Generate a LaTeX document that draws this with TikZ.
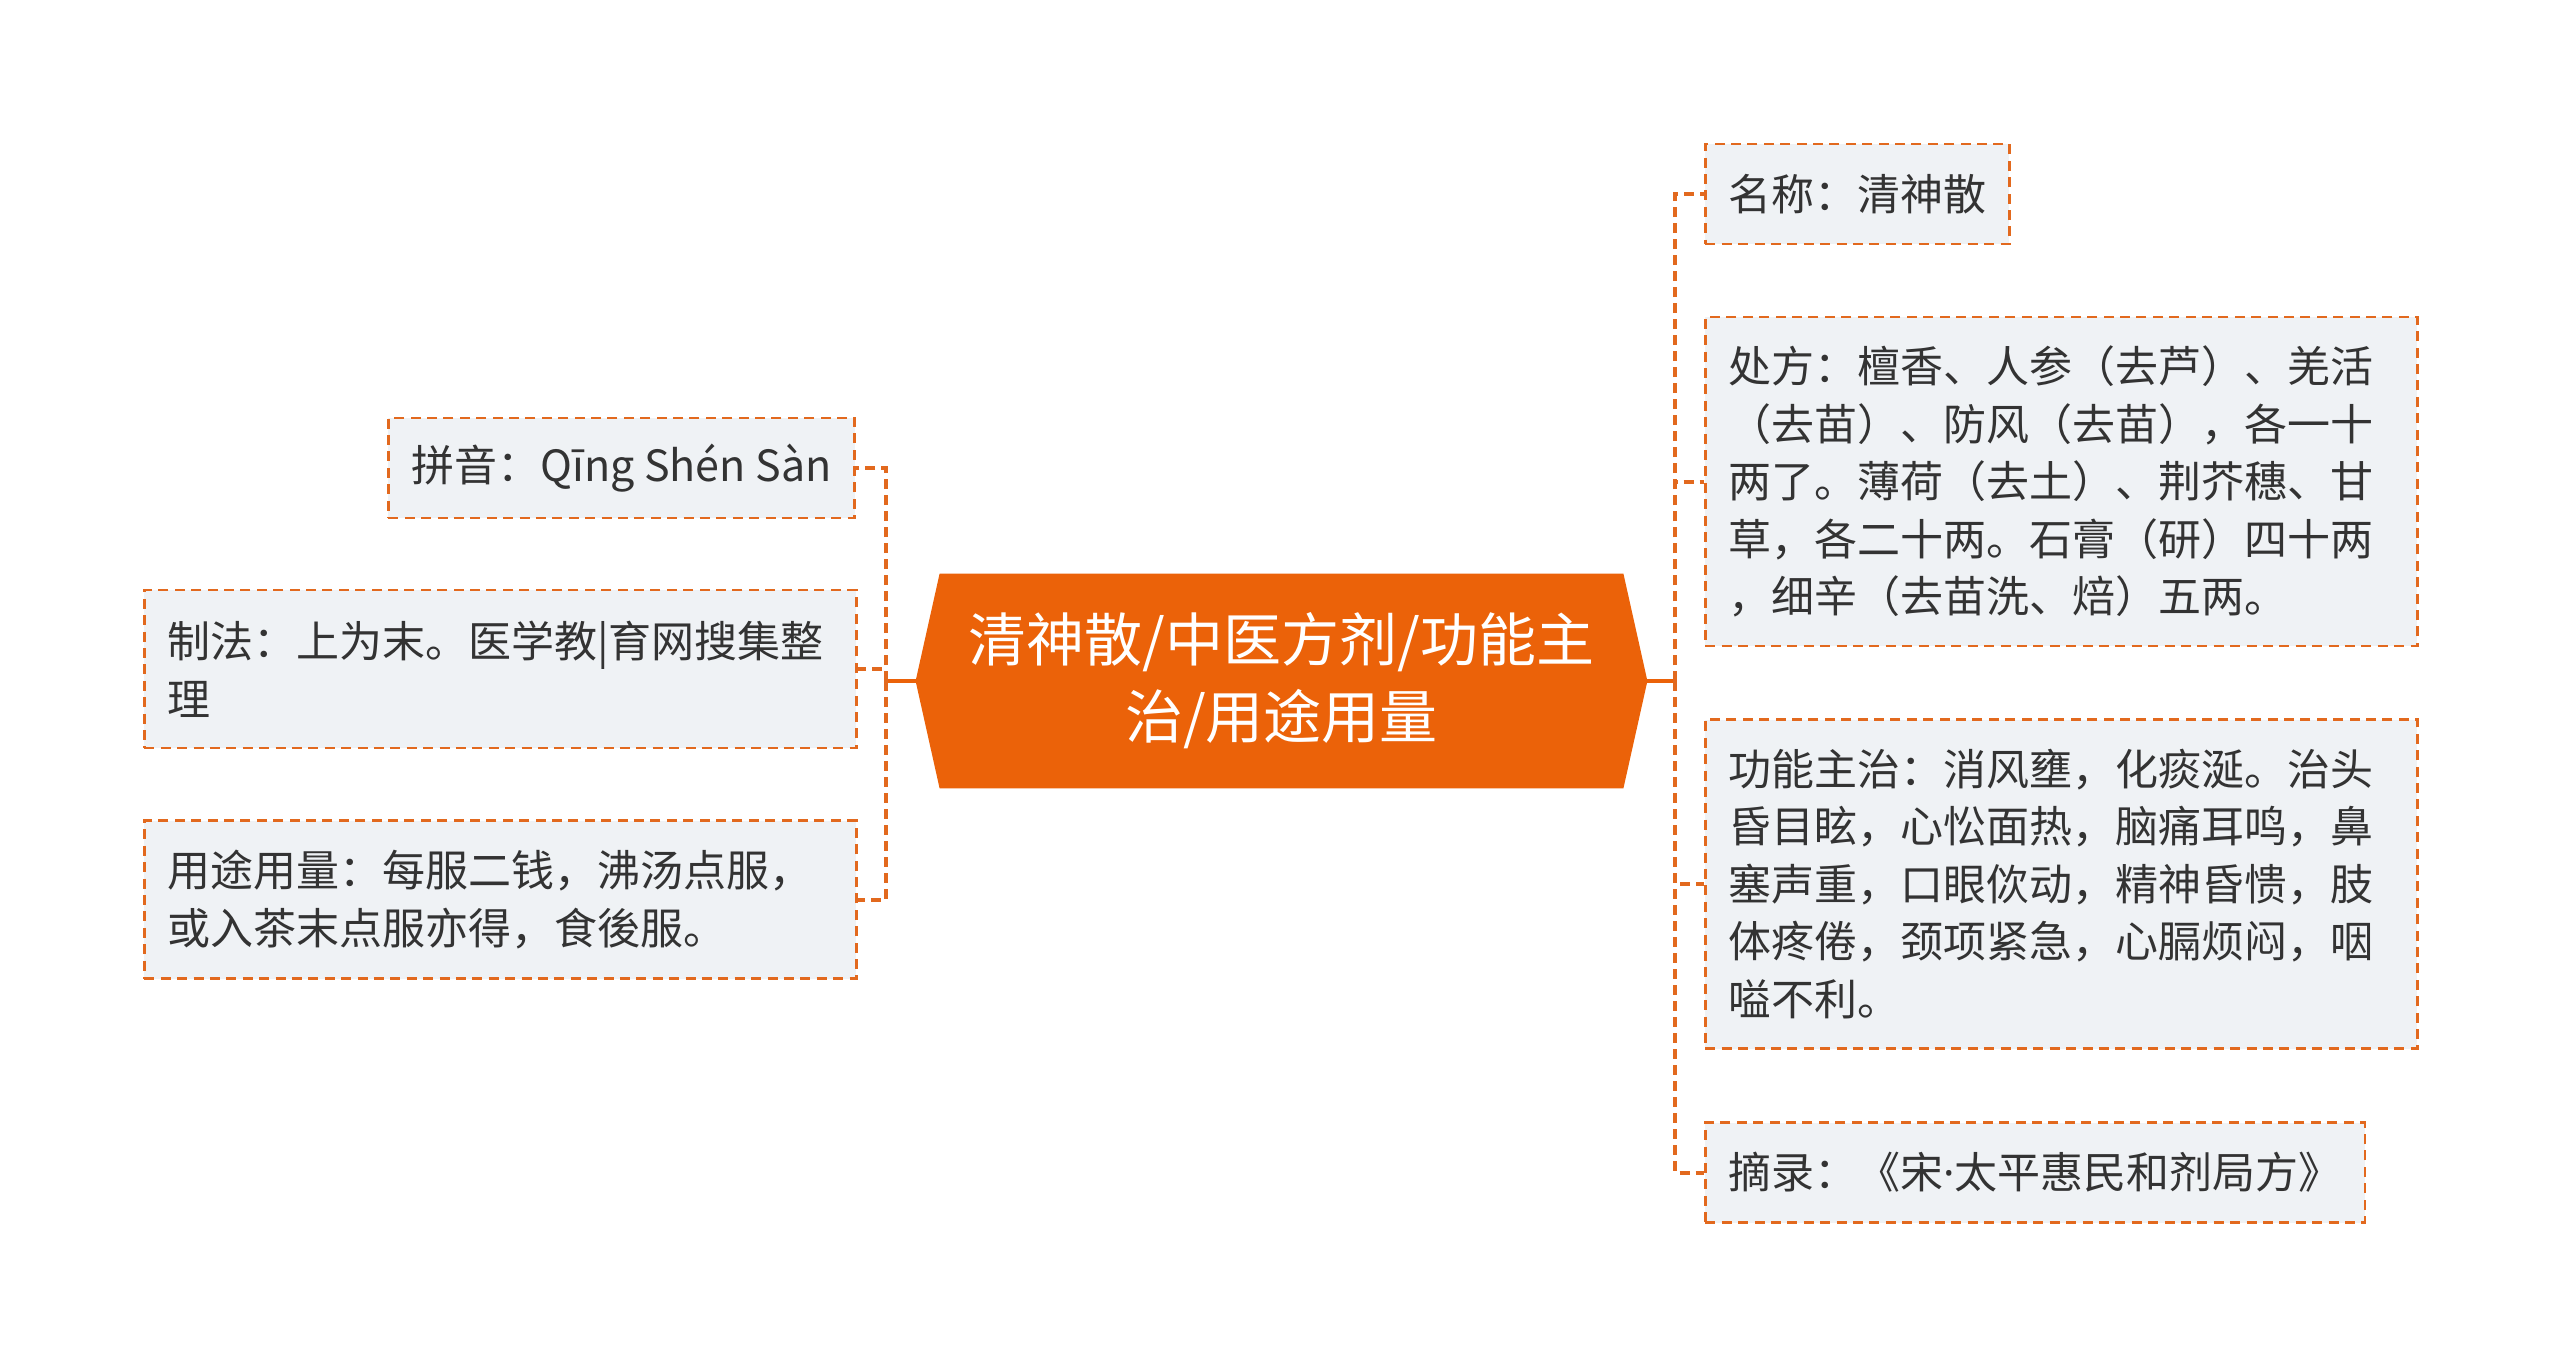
\documentclass[tikz,border=0pt]{standalone}
\usepackage{fontspec}
\usetikzlibrary{backgrounds}
\newfontfamily\cjk{Noto Sans CJK SC}
\newfontfamily\latin{Noto Sans}
\definecolor{hexorange}{HTML}{EB6209}
\definecolor{lineorange}{HTML}{E2691E}
\definecolor{leafgray}{HTML}{EFF2F5}
\definecolor{inkgray}{HTML}{333333}

\begin{document}
\begin{tikzpicture}[x=0.5pt, y=-0.5pt,
      leaf/.style={
        draw=lineorange, fill=leafgray, line width=1.3pt,
        dash pattern=on 5pt off 3.2pt, anchor=west, align=left,
        inner xsep=11.5pt, inner ysep=0pt, minimum height=50pt,
        text=inkgray, font=\cjk\fontsize{21.5pt}{28.75pt}\selectfont
      },
      wide/.style={text width=333pt},
      link/.style={draw=lineorange, line width=2pt, dash pattern=on 5pt off 3pt},
      stem/.style={draw=hexorange, line width=2pt},
      hexbox/.style={
        minimum width=365.5pt, minimum height=107pt, inner sep=0pt,
        align=center, text=white, font=\cjk\fontsize{29pt}{38.5pt}\selectfont
      }
    ]
    \useasboundingbox (0,0) rectangle (2560,1361);

    % central topic
    \node [hexbox] (root) at (1281.5,681) {清神散/中医方剂/功能主\\治/用途用量};
    \begin{scope}[on background layer]
      \fill[white] (0,0) rectangle (2560,1361);
      \fill[hexorange] (root.west) -- ([xshift=12pt]root.north west)
        -- ([xshift=-12pt]root.north east) -- (root.east)
        -- ([xshift=-12pt]root.south east) -- ([xshift=12pt]root.south west) -- cycle;
    \end{scope}

    % left side
    \node [leaf, anchor=east] (pinyin) at (856,468) {拼音：Qīng Shén Sàn};
    \node [leaf, wide, minimum height=79pt] (zhifa) at (143,669)
      {制法：上为末。医学教|育网搜集整\\理};
    \node [leaf, wide, minimum height=79pt] (yongtu) at (143,899.5)
      {用途用量：每服二钱，沸汤点服，\\或入茶末点服亦得，食後服。};

    % right side
    \node [leaf] (mingcheng) at (1704,194) {名称：清神散};
    \node [leaf, wide, minimum height=164.5pt] (chufang) at (1704,481.5)
      {处方：檀香、人参（去芦）、羌活\\（去苗）、防风（去苗），各一十\\两了。薄荷（去土）、荆芥穗、甘\\草，各二十两。石膏（研）四十两\\，细辛（去苗洗、焙）五两。};
    \node [leaf, wide, minimum height=164.5pt] (gongneng) at (1704,884)
      {功能主治：消风壅，化痰涎。治头\\昏目眩，心忪面热，脑痛耳鸣，鼻\\塞声重，口眼佽动，精神昏愦，肢\\体疼倦，颈项紧急，心膈烦闷，咽\\嗌不利。};
    \node [leaf] (zhailu) at (1704,1172.5) {摘录：《宋{\latin ·}太平惠民和剂局方》};

    % connectors
    \coordinate (lj) at (886,681);
    \coordinate (rj) at (1675,681);
    \draw [stem] (root.west) -- (lj);
    \draw [stem] (root.east) -- (rj);
    \foreach \n in {pinyin,zhifa,yongtu}
      \draw [link] (lj) |- (\n.east);
    \foreach \n in {mingcheng,chufang,gongneng,zhailu}
      \draw [link] (rj) |- (\n.west);
  \end{tikzpicture}
\end{document}
